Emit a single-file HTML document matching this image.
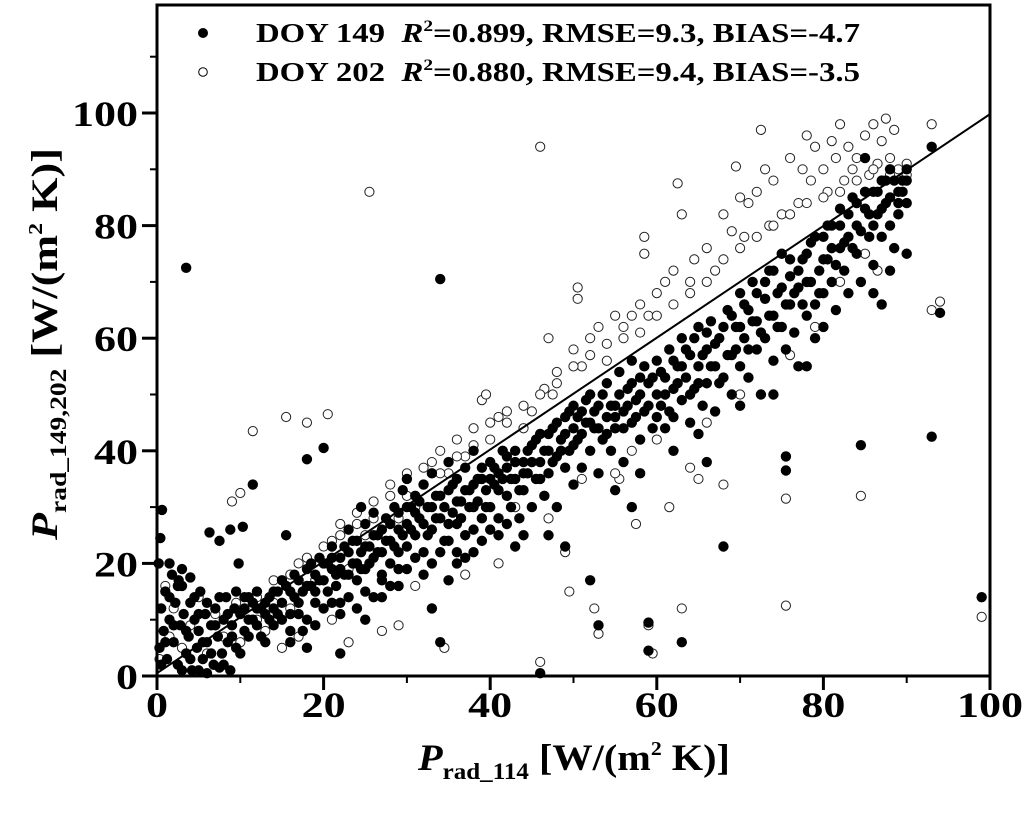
<!DOCTYPE html>
<html><head><meta charset="utf-8"><style>
html,body{margin:0;padding:0;background:#fff;}
svg{display:block;font-family:"Liberation Serif",serif;font-weight:bold;}
</style></head><body>
<svg id="chart" width="1024" height="822" viewBox="0 0 1024 822">
<g id="marks"></g>
<g id="axes"></g>
<g>
 <circle cx="203" cy="33" r="5" fill="#000"/>
 <text x="256" y="42" font-size="27" textLength="604" lengthAdjust="spacingAndGlyphs">DOY 149 &#160;<tspan font-style="italic">R</tspan><tspan font-size="16" dy="-11">2</tspan><tspan dy="11">=0.899, RMSE=9.3, BIAS=-4.7</tspan></text>
 <circle cx="203" cy="72" r="4.3" fill="#fff" stroke="#000" stroke-width="1"/>
 <text x="256" y="81" font-size="27" textLength="604" lengthAdjust="spacingAndGlyphs">DOY 202 &#160;<tspan font-style="italic">R</tspan><tspan font-size="16" dy="-11">2</tspan><tspan dy="11">=0.880, RMSE=9.4, BIAS=-3.5</tspan></text>
</g>
<text x="418" y="770" font-size="37" textLength="312" lengthAdjust="spacingAndGlyphs"><tspan font-style="italic">P</tspan><tspan font-size="23" dy="9">rad_114</tspan><tspan dy="-9"> [W/(m</tspan><tspan font-size="20" dy="-15">2</tspan><tspan dy="15"> K)]</tspan></text>
<text transform="translate(57,540) rotate(-90)" font-size="37" textLength="392" lengthAdjust="spacingAndGlyphs"><tspan font-style="italic">P</tspan><tspan font-size="23" dy="9">rad_149,202</tspan><tspan dy="-9"> [W/(m</tspan><tspan font-size="20" dy="-15">2</tspan><tspan dy="15"> K)]</tspan></text>
</svg>
<script>
const xTicks = [0,20,40,60,80,100];
const yTicks = [0,20,40,60,80,100];
const xMinor = [10,30,50,70,90];
const yMinor = [10,30,50,70,90,110];
const fitLine = [[0,0.5],[100,99.8]];
const doy149 = [[0.3,5],[0.5,12],[0.8,8],[1,15],[1.2,3],[1.5,10],[1.8,18],[2,6],[2.2,13],[2.5,2],[2.8,9],[3,16],[3.2,11],[3.5,4],[3.8,7],[4,13],[4.2,1],[4.5,10],[4.8,5],[5,8],[5.2,15],[5.5,3],[5.8,11],[6,6],[6.3,25.5],[6.5,9],[6.8,2],[7,12],[7.3,7],[7.5,24],[7.8,4],[8,10],[8.3,14],[8.5,6],[8.8,26],[9,9],[9.3,12],[9.5,5],[9.8,20],[10,11],[10.3,26.5],[10.5,8],[0.2,20],[0.4,24.5],[0.6,29.5],[1.5,20],[3.5,72.5],[2.6,17],[5,1],[6,0.5],[7.5,1.5],[8.8,1],[4,17.5],[3,19],
[11,10],[11.5,13],[11.5,34],[12,9],[12.5,12],[13,11],[13.5,14],[14,12],[14.5,15],[15,13],[15.5,16],[15.5,25],[16,11],[16.5,14],[17,17],[17.5,15],[17.5,8],[18,19],[18,38.5],[18.5,16],[19,18],[19,13],[19.5,21],[20,17],[20,40.5],[20.5,20],[16,6],[18,5],[12.5,7],
[21,19],[21,23],[21.5,16],[22,21],[22,4],[22.5,18],[23,22],[23,26],[23.5,20],[24,24],[24,17],[24.5,22],[25,19],[25,27],[25.5,23],[26,21],[26,29],[26.5,25],[27,22],[27,18],[27.5,28],[28,24],[28,20],[28.5,30],[29,26],[29,22],[29.5,33],[30,27],[30,23],[30,35],[22,13],[25,10],[27,14],[29,16],[24.5,30],
[30.5,30],[31,25],[31,32],[31.5,28],[32,22],[32,34],[32.5,30],[33,26],[33,36],[33.5,32],[34,28],[34,70.5],[34,6],[34.5,24],[35,33],[35,38],[35.5,29],[36,35],[36,27],[36.5,31],[37,37],[37,25],[37.5,33],[38,30],[38,40],[38.5,35],[39,28],[39,37],[39.5,33],[40,38],[40,30],[33,12],[35,17],[36,20],[38,22],
[40.5,34],[41,36],[41,28],[41.5,40],[42,32],[42,37],[42.5,30],[43,35],[43,40],[43.5,28],[44,33],[44,38],[44.5,36],[45,30],[45,41],[45.5,35],[46,38],[46,43],[46,0.5],[46.5,32],[47,40],[47,36],[47.5,44],[48,39],[48,30],[48.5,42],[49,37],[49,46],[49.5,40],[50,44],[50,34],[50,48],[47,25],[49,23],[44,25],
[50.5,42],[51,47],[51,37],[51.5,45],[52,50],[52,40],[52,17],[52.5,44],[53,48],[53,36],[53,9],[53.5,42],[54,46],[54,52],[54.5,40],[55,48],[55,44],[55.5,54],[56,47],[56,38],[56.5,51],[57,45],[57,56],[57.5,49],[58,53],[58,42],[58.5,47],[59,52],[59,9.5],[59,4.5],[59.5,44],[60,50],[60,56],[55,33],[57,30],[58,36],
[60.5,48],[61,53],[61,44],[61.5,58],[62,51],[62,46],[62.5,55],[63,60],[63,49],[63,6],[63.5,53],[64,57],[64,45],[64.5,51],[65,62],[65,55],[65,43],[65.5,48],[66,58],[66,52],[66.5,63],[67,55],[67,47],[67.5,60],[68,53],[68,23],[68.5,65],[69,57],[69,50],[69.5,62],[70,55],[70,68],[70,48],[66,38],[62,40],
[70.5,60],[71,65],[71,53],[71.5,70],[72,58],[72,63],[72.5,50],[73,67],[73,60],[73.5,72],[74,56],[74,64],[74.5,68],[75,62],[75,75],[75.5,39],[75.5,36.5],[75.5,58],[76,66],[76,71],[76.5,61],[77,69],[77,55],[77.5,74],[78,64],[78,70],[78.5,77],[79,66],[79,60],[79.5,72],[80,68],[80,78],[80,62],[74,50],[78,55],
[80.5,74],[81,80],[81,70],[81.5,65],[82,76],[82,83],[82.5,72],[83,78],[83,68],[83.5,85],[84,75],[84,80],[84.5,41],[84.5,70],[85,83],[85,92],[85.5,78],[86,86],[86,73],[86.5,82],[87,88],[87,66],[87,78],[87.5,84],[88,80],[88,90],[88.5,76],[89,86],[89,82],[89.5,88],[90,84],[90,90],[90,75],[86,68],[88,72],
[93,94],[93,42.5],[94,64.5],[99,14],
[10.5,12],[11,14],[12,12],[13,13],[13.5,10],[14,15],[14.5,11],[15,17],[16,15],[16.5,18],[17,13],[18,16],[18.5,20],[19,15],[19.5,17],[20,20],[20.5,15],[21,21],[21.5,18],[22,19],[22.5,23],[23,18],[23.5,24],[24,20],[24.5,19],[25,23],[25.5,20],[26,25],[26.5,22],[27,26],[27.5,24],[28,27],[28.5,23],[29,29],[29.5,25],[30,30],[30.5,26],[31,29],[31.5,31],[32,27],[32.5,25],[33,30],[33.5,28],[34,32],[34.5,30],[35,27],[35.5,34],[36,31],[36.5,28],[37,33],[37.5,30],[38,34],[38.5,31],[39,35],[39.5,30],[40,35],[40.5,37],[41,33],[41.5,35],[42,39],[42.5,35],[43,38],[43.5,33],[44,36],[44.5,40],[45,38],[45.5,42],[46,35],[46.5,40],[47,43],[47.5,38],[48,45],[48.5,40],[49,43],[49.5,47],[50,41],[50.5,46],[51,43],[51.5,49],[52,45],[52.5,47],[53,44],[53.5,50],[54,43],[54.5,48],[55,46],[55.5,50],[56,44],[56.5,48],[57,52],[57.5,46],[58,50],[58.5,55],[59,48],[59.5,53],[60,46],[60.5,54],[61,50],[61.5,47],[62,56],[62.5,52],[63,55],[63.5,58],[64,50],[64.5,60],[65,52],[65.5,57],[66,61],[66.5,55],[67,59],[67.5,52],[68,62],[68.5,57],[69,64],[69.5,58],[70,62],[70.5,66],[71,58],[71.5,63],[72,68],[72.5,61],[73,70],[73.5,64],[74,72],[74.5,62],[75,69],[75.5,66],[76,74],[76.5,68],[77,72],[77.5,66],[78,75],[78.5,70],[79,78],[79.5,68],[80,74],[80.5,80],[81,76],[81.5,73],[82,80],[82.5,77],[83,82],[83.5,76],[84,84],[84.5,79],[85,86],[85.5,82],[86,80],[86.5,86],[87,83],[87.5,88],[88,85],[88.5,88],[89,84],[89.5,86],[90,88],
[0.5,2],[1,6],[1.5,14],[2,9],[2.5,16],[3,1],[3.5,8],[4,3],[4.5,14],[5,11],[5.5,6],[6,13],[6.5,4],[7,9],[7.5,14],[8,2],[8.5,11],[9,7],[9.5,15],[10,4],[10.5,14],[11,7],[11.5,10],[12,15],[13,6],[14,9],[15,10],[16,8],[17,11],[18,10],[19,9],[20,12],[21,13],[22,11],[23,14],[24,12],[25,15],[26,14],[27,17],[28,16],[29,19],[30,19],[31,21],[32,18],[33,20],[34,22],[35,24],[36,22],[37,21],[38,26],[39,24],[40,26],[41,25],[42,27],[43,23]];
const doy202 = [[0.3,3],[1,16],[1.5,7],[2,12],[3,5],[4,9],[5,14],[6,4],[7,11],[8,7],[9,31],[9.5,13],[10,32.5],[11.5,43.5],[12,10],[13,8],[14,17],[15.5,46],[16,12],[17,20],[18,45],[19,17],[20.5,46.5],[21,24],[22,27],[23,19],[24,29],[25.5,86],[25,25],[26,31],[27,8],[28,32],[29,28],[30,36],[31,30],[32,34],[33,38],[34,40],[34.5,5],[35,36],[36,42],[37,39],[38,44],[39,49],[39.5,50],[40,42],[41,46],[42,45],[43,30],[44,44],[45,47],[46,94],[46,2.5],[46.5,51],[47,60],[47.5,50],[48,54],[49,22],[49.5,15],[50,58],[50.5,69],[50.5,67],[51,55],[52,57],[52.5,12],[53,62],[53,7.5],[54,59],[55,64],[55.5,35],[56,60],[57,64],[57.5,27],[58,66],[58.5,78],[58.5,75],[59,64],[59,9],[59.5,4],[60,68],[61,70],[61.5,30],[62,72],[62.5,87.5],[63,82],[63,12],[64,70],[64.5,74],[65,35],[66,76],[67,72],[68,82],[68,34],[69,79],[69.5,90.5],[70,85],[70.5,78],[71,84],[72,86],[72.5,97],[73,90],[73.5,80],[74,88],[75,82],[75.5,31.5],[75.5,12.5],[76,92],[77,84],[77.5,90],[78,96],[78.5,88],[79,94],[80,90],[80.5,86],[81,95],[81.5,92],[82,98],[82.5,88],[83,94],[83.5,90],[84,92],[84.5,32],[85,96],[85.5,89],[86,98],[86.5,91],[87,95],[87.5,99],[88,92],[88.5,97],[89,90],[89.5,88],[90,91],[85,75],[86.5,72],[93,98],[93,65],[94,66.5],[99,10.5],
[12,14],[14,13],[16,18],[18,21],[20,23],[22,25],[24,27],[26,28],[28,34],[30,32],[32,37],[34,36],[36,39],[38,41],[40,45],[42,47],[44,48],[46,50],[48,52],[50,55],[52,60],[54,56],[56,62],[58,61],[60,64],[62,66],[64,68],[66,70],[68,74],[70,76],[72,78],[74,80],[76,82],[78,84],[80,85],[82,86],[84,88],[86,90],[88,89],[90,89],[10,6],[15,5],[17,7],[21,10],[23,6],[29,9],[31,16],[37,18],[41,20],[47,28],[51,35],[55,36],[57,40],[60,42],[64,37],[66,45],[70,50],[76,57],[79,62],[82,70]];

const NS='http://www.w3.org/2000/svg';
const X0=157,X1=990,Y0=676,YTOP=5;
const sx=v=>X0+(X1-X0)*v/100;
const sy=v=>Y0-(Y0-113)*v/100;
const marks=document.getElementById('marks');
const axes=document.getElementById('axes');
function mk(tag,attrs,parent){const e=document.createElementNS(NS,tag);for(const k in attrs)e.setAttribute(k,attrs[k]);parent.appendChild(e);return e;}

doy202.forEach(p=>{
 const c=mk('circle',{cx:sx(p[0]),cy:sy(p[1]),r:4.6,fill:'#fff',stroke:'#222','stroke-width':1},marks);
 
 
});
doy149.forEach(p=>{
 const c=mk('circle',{cx:sx(p[0]),cy:sy(p[1]),r:5.2,fill:'#000'},marks);
 
 
});
const fl=mk('line',{x1:sx(fitLine[0][0]),y1:sy(fitLine[0][1]),x2:sx(fitLine[1][0]),y2:sy(fitLine[1][1]),stroke:'#000','stroke-width':2},marks);



const frame=mk('rect',{x:X0,y:YTOP,width:X1-X0,height:Y0-YTOP,fill:'none',stroke:'#000','stroke-width':3},axes);



xTicks.forEach(v=>{
 const t=mk('line',{x1:sx(v),x2:sx(v),y1:Y0,y2:Y0+14,stroke:'#000','stroke-width':3},axes);
 
 
 const s=String(v);
 const l=mk('text',{x:sx(v),y:717,'text-anchor':'middle','font-size':36,textLength:s.length*22,lengthAdjust:'spacingAndGlyphs'},axes);
 l.textContent=s;
 
 
});
xMinor.forEach(v=>{
 const t=mk('line',{x1:sx(v),x2:sx(v),y1:Y0,y2:Y0+7,stroke:'#000','stroke-width':2},axes);
 
 
});
yTicks.forEach(v=>{
 const t=mk('line',{x1:X0-15,x2:X0,y1:sy(v),y2:sy(v),stroke:'#000','stroke-width':3},axes);
 
 
 const s=String(v);
 const l=mk('text',{x:138-s.length*22,y:sy(v)+13,'font-size':36,textLength:s.length*22,lengthAdjust:'spacingAndGlyphs'},axes);
 l.textContent=s;
 
 
});
yMinor.forEach(v=>{
 const t=mk('line',{x1:X0-7,x2:X0,y1:sy(v),y2:sy(v),stroke:'#000','stroke-width':2},axes);
 
 
});
</script>
</body></html>
